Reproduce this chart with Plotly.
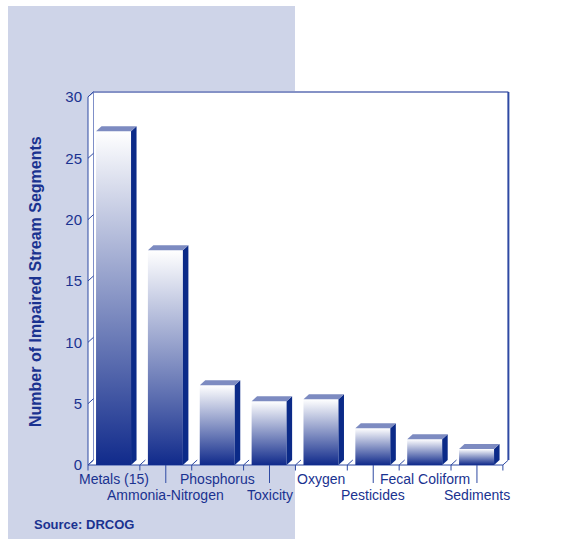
import plotly.graph_objects as go

# ---------------- data ----------------
categories = ["Metals (15)", "Ammonia-Nitrogen", "Phosphorus", "Toxicity",
              "Oxygen", "Pesticides", "Fecal Coliform", "Sediments"]
segments = [27.2, 17.5, 6.5, 5.2, 5.35, 3.0, 2.1, 1.3]
y_ticks = [0, 5, 10, 15, 20, 25, 30]
y_title = "Number of Impaired Stream Segments"
source_text = "Source: DRCOG"

# ---------------- geometry / style ----------------
W_FIG, H_FIG = 574, 539
L, R, T, B = 86, 512, 90, 500          # plot area in px
X_PX0, X_SCALE = 88, 51.86             # px of x=-0.5, px per category
Y_PX0, Y_SCALE = 465, 12.27            # px of y=0, px per unit
x_range = [-0.5 - (X_PX0 - L) / X_SCALE, -0.5 + (R - X_PX0) / X_SCALE]
y_range = [-(B - Y_PX0) / Y_SCALE, (Y_PX0 - T) / Y_SCALE]
DX = 5.5 / X_SCALE                     # 3D depth offset (x)
DY = 5.0 / Y_SCALE                     # 3D depth offset (y)
BAR_L, BAR_R = -0.345, 0.33            # front face extent around category

NAVY = "#0b2a88"
TEXT = "#1a3290"
LINE = "#2f4aa3"
TOPC = "#7d8bc1"
LAV = "#ced4e8"
FONT = "Liberation Sans, Arial, sans-serif"

def pxx(px):
    return (px - L) / (R - L)

def pxy(py):
    return (B - py) / (B - T)

n = len(categories)
YMAX = y_ticks[-1]
XL, XR = -0.5, n - 0.5

fig = go.Figure()

# bars (front with gradient, side, top)
for i, v in enumerate(segments):
    x0, x1 = i + BAR_L, i + BAR_R
    fig.add_trace(go.Scatter(
        x=[x0, x1, x1, x0, x0], y=[0, 0, v, v, 0],
        mode="none", fill="toself",
        fillgradient=dict(type="vertical", start=0, stop=v,
                          colorscale=[[0, "#102a8b"], [1, "#ffffff"]]),
        hoverinfo="skip", showlegend=False))
    fig.add_trace(go.Scatter(
        x=[x1, x1 + DX, x1 + DX, x1, x1], y=[0, DY, v + DY, v, 0],
        mode="none", fill="toself", fillcolor=NAVY,
        hoverinfo="skip", showlegend=False))
    fig.add_trace(go.Scatter(
        x=[x0, x1, x1 + DX, x0 + DX, x0], y=[v, v, v + DY, v + DY, v],
        mode="none", fill="toself", fillcolor=TOPC,
        hoverinfo="skip", showlegend=False))

shapes = []
# lavender panel on the left
shapes.append(dict(type="rect", xref="paper", yref="paper",
                   x0=pxx(8), x1=pxx(295), y0=pxy(539), y1=pxy(6),
                   fillcolor=LAV, line=dict(width=0), layer="below"))
# back wall
shapes.append(dict(type="rect", xref="x", yref="y",
                   x0=XL + DX, x1=XR + DX, y0=DY, y1=YMAX + DY,
                   fillcolor="white", line=dict(width=0), layer="below"))
# left wall
shapes.append(dict(type="path", xref="x", yref="y",
                   path=f"M {XL},0 L {XL},{YMAX} L {XL+DX},{YMAX+DY} L {XL+DX},{DY} Z",
                   fillcolor="white", line=dict(width=0), layer="below"))
# floor
shapes.append(dict(type="path", xref="x", yref="y",
                   path=f"M {XL},0 L {XR},0 L {XR+DX},{DY} L {XL+DX},{DY} Z",
                   fillcolor="white", line=dict(width=0), layer="below"))

def seg(x0, y0, x1, y1, color=LINE, width=1, layer="below"):
    shapes.append(dict(type="line", xref="x", yref="y", x0=x0, y0=y0, x1=x1, y1=y1,
                       line=dict(color=color, width=width), layer=layer))

# wall edges
seg(XL + DX, YMAX + DY, XR + DX, YMAX + DY, color="#8592c6", width=2)
seg(XR + DX, DY, XR + DX, YMAX + DY, color=LINE, width=2)
seg(XL + DX, DY, XL + DX, YMAX + DY, color="#7f8fc8", width=1)
seg(XL, 0, XL, YMAX, color=LINE, width=1)
seg(XL, YMAX, XL + DX, YMAX + DY, color=LINE, width=1)
# y tick slants on left wall
for t in y_ticks:
    seg(XL, t, XL + DX, t + DY, color=LINE, width=1)
# floor front edge and boundary slants
seg(XL, 0, XR, 0, color=LINE, width=1)
for k in range(n + 1):
    b = k - 0.5
    seg(b, 0, b + DX, DY, color=LINE, width=1)
    seg(b, 0, b, -5.5 / Y_SCALE, color=LINE, width=1)
# leader ticks for second-row labels
for i in range(1, n, 2):
    seg(i, 0, i, -18 / Y_SCALE, color=LINE, width=1)

annotations = []
for i, c in enumerate(categories):
    ypx = 479 if i % 2 == 0 else 495
    annotations.append(dict(x=i, y=(Y_PX0 - ypx) / Y_SCALE, xref="x", yref="y",
                            text=c, showarrow=False, xanchor="center", yanchor="middle",
                            font=dict(family=FONT, size=14, color=TEXT)))
annotations.append(dict(x=pxx(35), y=pxy(282), xref="paper", yref="paper",
                        text=f"<b>{y_title}</b>", textangle=-90, showarrow=False,
                        xanchor="center", yanchor="middle",
                        font=dict(family=FONT, size=16, color=TEXT)))
annotations.append(dict(x=pxx(32), y=pxy(524), xref="paper", yref="paper",
                        text=f"<b>{source_text}</b>", showarrow=False,
                        xanchor="left", yanchor="middle",
                        font=dict(family=FONT, size=13, color=TEXT)))

fig.update_layout(
    width=W_FIG, height=H_FIG,
    margin=dict(l=L, r=W_FIG - R, t=T, b=H_FIG - B, pad=0),
    paper_bgcolor="white", plot_bgcolor="rgba(0,0,0,0)",
    showlegend=False,
    shapes=shapes, annotations=annotations,
    xaxis=dict(range=x_range, showgrid=False, zeroline=False, showline=False,
               showticklabels=False, ticks="", fixedrange=True),
    yaxis=dict(range=y_range, tickvals=y_ticks, ticktext=[str(t) for t in y_ticks],
               showgrid=False, zeroline=False, showline=False, ticks="",
               ticklabelstandoff=3,
               tickfont=dict(family=FONT, size=15, color=TEXT), fixedrange=True),
)

fig.write_html("out.html")
